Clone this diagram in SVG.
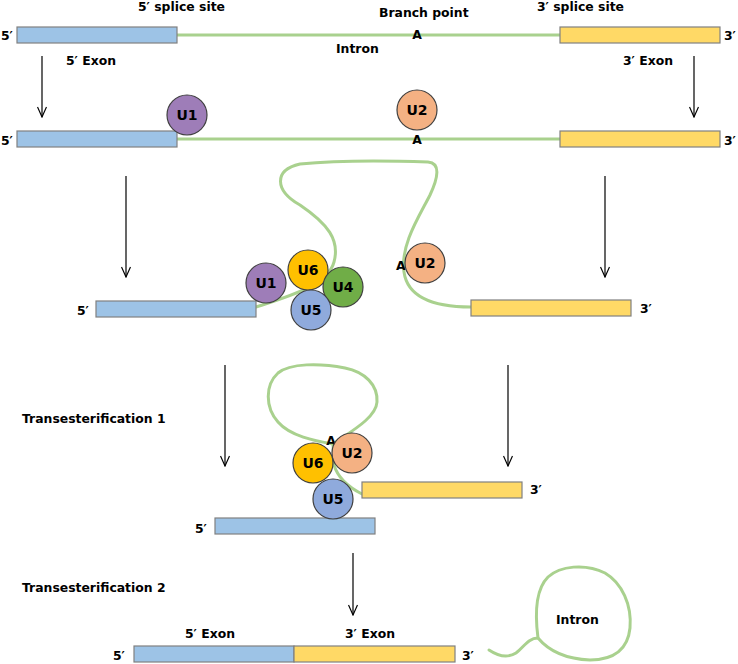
<svg xmlns="http://www.w3.org/2000/svg" width="738" height="664" viewBox="0 0 738 664">
<defs>
<style>
text{font-family:"DejaVu Sans","Liberation Sans",sans-serif;font-weight:bold;font-size:12.4px;fill:#000}
.c{text-anchor:middle}
.lbl{font-size:14px}
.blue{fill:#9DC3E6;stroke:#808080;stroke-width:1.2}
.yel{fill:#FFD966;stroke:#808080;stroke-width:1.2}
.rna{fill:none;stroke:#A9D18E;stroke-width:3;stroke-linecap:round;stroke-linejoin:round}
.snr{stroke:#404040;stroke-width:1.2}
.u1{fill:#9E7DB8}.u2{fill:#F4B183}.u4{fill:#70AD47}.u5{fill:#8FAADC}.u6{fill:#FFC000}
.arrow{stroke:#000;stroke-width:1.2;fill:none;marker-end:url(#ah)}
</style>
<marker id="ah" viewBox="-11 -5 12 10" refX="0" refY="0" markerWidth="12" markerHeight="10" markerUnits="userSpaceOnUse" orient="auto">
<path d="M-10,-4.5 L0,0 L-10,4.5" fill="none" stroke="#000" stroke-width="1.2"/>
</marker>
</defs>

<g id="connectors">
<line class="arrow" x1="42" y1="56" x2="42" y2="117"/>
<line class="arrow" x1="694" y1="56" x2="694" y2="117"/>
<line class="arrow" x1="126" y1="176" x2="126" y2="277"/>
<line class="arrow" x1="605" y1="176" x2="605" y2="277"/>
<line class="arrow" x1="225" y1="365" x2="225" y2="466"/>
<line class="arrow" x1="508" y1="365" x2="508" y2="466"/>
<line class="arrow" x1="353" y1="553" x2="353" y2="615"/>
</g>

<g id="row1">
<line class="rna" x1="177" y1="35" x2="560" y2="35"/>
<rect class="blue" x="17" y="27" width="160" height="16"/>
<rect class="yel" x="560" y="27" width="160" height="16"/>
<text x="1" y="40">5′</text>
<text x="724" y="40">3′</text>
<text x="138" y="11">5′ splice site</text>
<text x="379" y="17">Branch point</text>
<text x="537" y="11">3′ splice site</text>
<text class="c" x="417" y="39">A</text>
<text x="336" y="53">Intron</text>
<text x="66" y="65">5′ Exon</text>
<text x="623" y="65">3′ Exon</text>
</g>

<g id="row2">
<line class="rna" x1="177" y1="139" x2="560" y2="139"/>
<rect class="blue" x="17" y="131" width="160" height="16"/>
<rect class="yel" x="560" y="131" width="160" height="16"/>
<text x="1" y="145">5′</text>
<text x="724" y="145">3′</text>
<text class="c" x="417" y="144">A</text>
<g id="r2-U1"><circle class="snr u1" cx="187" cy="115" r="20"/><text class="c lbl" x="187" y="120">U1</text></g>
<g id="r2-U2"><circle class="snr u2" cx="417" cy="110" r="20"/><text class="c lbl" x="417" y="115">U2</text></g>
</g>

<g id="row3">
<path class="rna" d="M256,307 C290,296 328,285 334,262 C340,240 328,224 300,205 C274,190 274,170 300,164 C340,160 400,161 428,162 C441,163 438,178 430,195 C420,215 400,245 404,272 C408,300 440,307 471,307"/>
<rect class="blue" x="96" y="301" width="160" height="16"/>
<rect class="yel" x="471" y="300" width="160" height="16"/>
<text x="77" y="315">5′</text>
<text x="640" y="313">3′</text>
<text x="396" y="270">A</text>
<g id="r3-U2"><circle class="snr u2" cx="425" cy="263" r="20"/><text class="c lbl" x="425" y="268">U2</text></g>
<g id="r3-U1"><circle class="snr u1" cx="266" cy="283" r="20"/><text class="c lbl" x="266" y="288">U1</text></g>
<g id="r3-U6"><circle class="snr u6" cx="308" cy="270" r="20"/><text class="c lbl" x="308" y="275">U6</text></g>
<g id="r3-U4"><circle class="snr u4" cx="343" cy="287" r="20"/><text class="c lbl" x="343" y="292">U4</text></g>
<g id="r3-U5"><circle class="snr u5" cx="311" cy="310" r="20"/><text class="c lbl" x="311" y="315">U5</text></g>
</g>

<g id="row4">
<text x="22" y="423">Transesterification 1</text>
<path class="rna" d="M333,444 C315,441 290,436 278,422 C265,407 265,385 278,373 C290,363 320,363 345,368 C365,372 378,385 377,402 C376,418 350,432 333,444 Z"/>
<path class="rna" d="M333,444 L334,465 C338,478 350,488 362,494"/>
<rect class="yel" x="362" y="482" width="160" height="16"/>
<rect class="blue" x="215" y="518" width="160" height="16"/>
<text x="195" y="533">5′</text>
<text x="530" y="494">3′</text>
<text class="c" x="331" y="445">A</text>
<g id="r4-U2"><circle class="snr u2" cx="352" cy="453" r="20"/><text class="c lbl" x="352" y="458">U2</text></g>
<g id="r4-U6"><circle class="snr u6" cx="313" cy="463" r="20"/><text class="c lbl" x="313" y="468">U6</text></g>
<g id="r4-U5"><circle class="snr u5" cx="333" cy="499" r="20"/><text class="c lbl" x="333" y="504">U5</text></g>
</g>

<g id="row5">
<text x="22" y="592">Transesterification 2</text>
<rect class="blue" x="134" y="646" width="160" height="16"/>
<rect class="yel" x="294" y="646" width="161" height="16"/>
<text x="113" y="660">5′</text>
<text x="462" y="660">3′</text>
<text x="185" y="638">5′ Exon</text>
<text x="345" y="638">3′ Exon</text>
<g id="intron-lariat">
<path class="rna" d="M489,650 C498,656 508,658 516,653 C524,647 528,638 538,638"/>
<path class="rna" d="M538,638 C535,615 535,590 548,577 C560,566 585,563 605,573 C622,583 632,605 630,628 C628,648 615,660 590,660 C565,659 548,650 538,638 Z"/>
<text x="556" y="624">Intron</text>
</g>
</g>
</svg>
